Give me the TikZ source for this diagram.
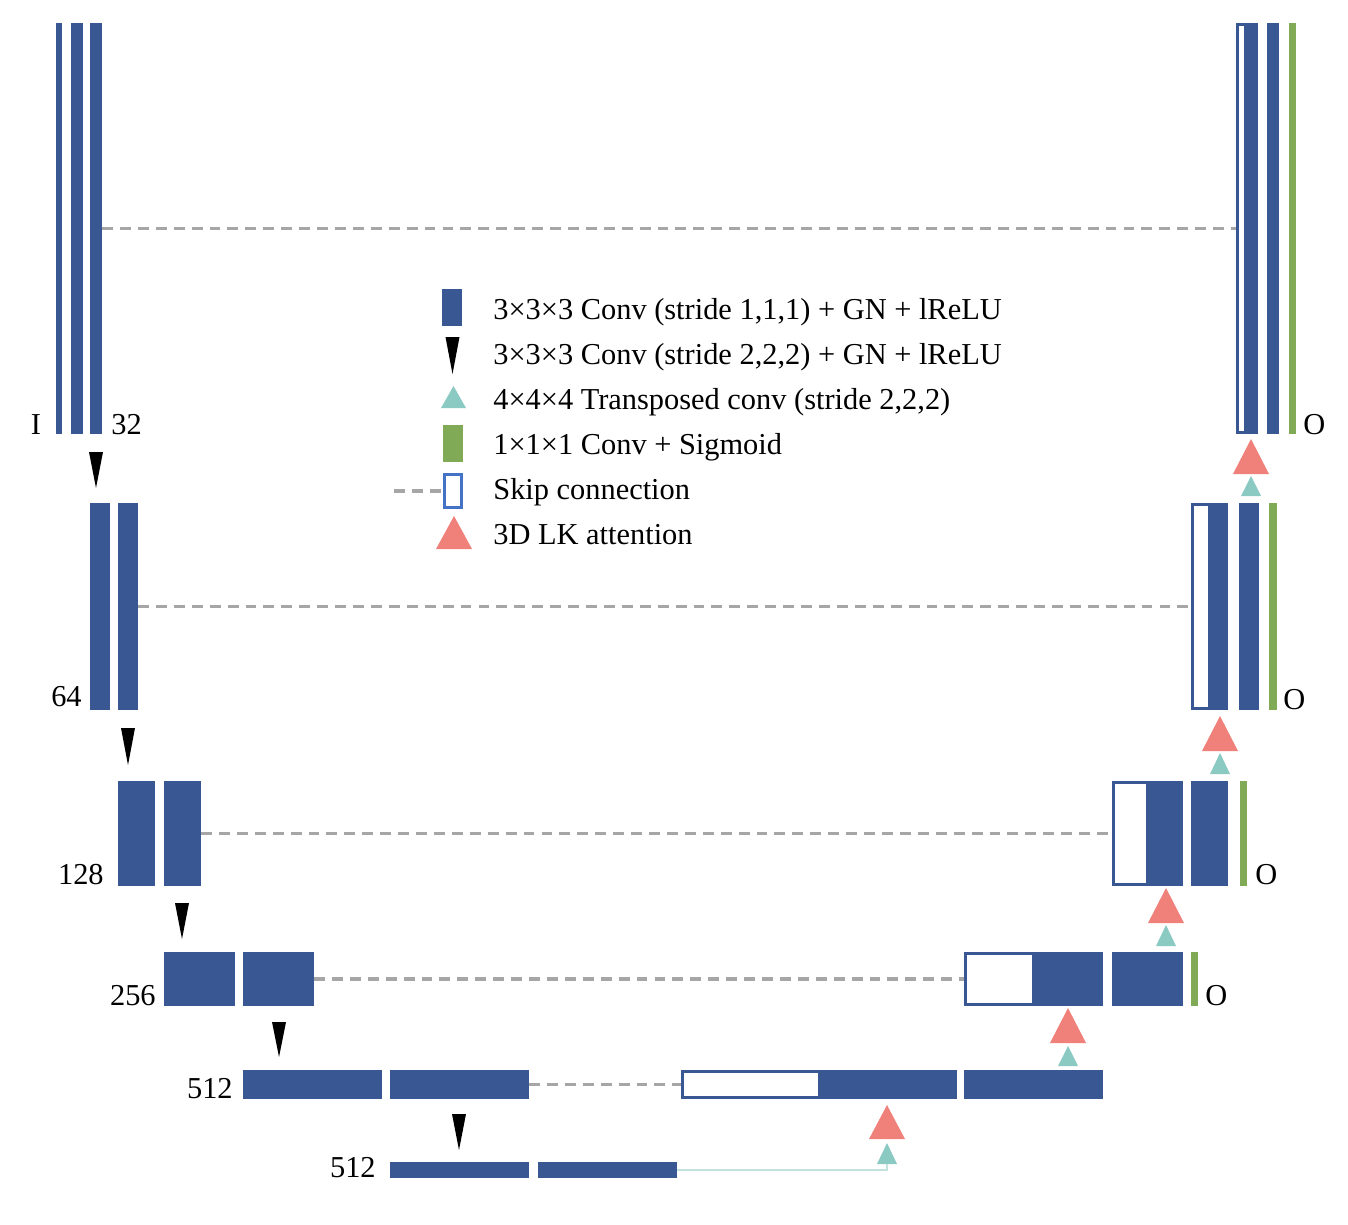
\documentclass[tikz,border=0pt]{standalone}
\usepackage{fontspec}
\setmainfont{Liberation Serif}
\usepackage{tikz}
\usetikzlibrary{arrows,shapes,positioning}
\definecolor{convblue}{RGB}{57,87,146}
\definecolor{sigreen}{RGB}{128,170,85}
\definecolor{lkred}{RGB}{240,128,122}
\definecolor{tealc}{RGB}{139,201,195}
\definecolor{skipgray}{RGB}{166,166,166}
\definecolor{legblue}{RGB}{68,114,196}
\definecolor{uplinec}{RGB}{194,226,222}
% triangles: centre x, top y, bottom y
\newcommand{\downtri}[3]{\fill[black] ({#1-7},#2)--({#1+7},#2)--(#1,#3)--cycle;}
\newcommand{\lkatt}[3]{\fill[lkred] ({#1-18},#3)--({#1+18},#3)--(#1,#2)--cycle;}
\newcommand{\upconv}[3]{\fill[tealc] ({#1-10},#3)--({#1+10},#3)--(#1,#2)--cycle;}

\begin{document}
\begin{tikzpicture}[x=0.02cm,y=-0.02cm,font=\fontsize{17.3}{20}\selectfont,
conv/.style={fill=convblue,inner sep=0pt,outer sep=0pt,anchor=north west},
hole/.style={fill=white,inner sep=0pt,outer sep=0pt,anchor=north west},
sig/.style={fill=sigreen,inner sep=0pt,outer sep=0pt,anchor=north west},
wh/.style 2 args={minimum width=#1*0.02cm,minimum height=#2*0.02cm},
lbl/.style={inner sep=0pt},
skipline/.style={draw=skipgray,line width=2.2pt,dash pattern=on 6.2pt off 4pt},
upline/.style={draw=uplinec,line width=1.2pt}]
\useasboundingbox (0,0) rectangle (1348,1224);

% encoder
\node[conv,wh={6}{411}] (in1) at (56,23) {};
\node[conv,wh={12}{411}] (e1a) at (71,23) {};
\node[conv,wh={12}{411}] (e1b) at (90,23) {};
\node[lbl,anchor=base] (nI) at (36,434) {I};
\node[lbl,anchor=base west] (n32) at (111,434) {32};
\downtri{96}{452}{488}
\node[conv,wh={20}{207}] (e2a) at (90,503) {};
\node[conv,wh={20}{207}] (e2b) at (118,503) {};
\node[lbl,anchor=base east] (n64) at (82,706) {64};
\downtri{128}{728}{765}
\node[conv,wh={37}{105}] (e3a) at (118,781) {};
\node[conv,wh={37}{105}] (e3b) at (164,781) {};
\node[lbl,anchor=base east] (n128) at (104,884) {128};
\downtri{182}{903}{939}
\node[conv,wh={71}{54}] (e4a) at (164,952) {};
\node[conv,wh={71}{54}] (e4b) at (243,952) {};
\node[lbl,anchor=base east] (n256) at (156,1005) {256};
\downtri{279}{1022}{1057}
\node[conv,wh={139}{29}] (e5a) at (243,1070) {};
\node[conv,wh={139}{29}] (e5b) at (390,1070) {};
\node[lbl,anchor=base east] (n512a) at (233,1098) {512};
\downtri{459}{1114}{1150}
\node[conv,wh={139}{16}] (e6a) at (390,1162) {};
\node[conv,wh={139}{16}] (e6b) at (538,1162) {};
\node[lbl,anchor=base east] (n512b) at (376,1177) {512};

% decoder
\node[conv,wh={276}{29}] (d5s) at (681,1070) {};
\node[hole,wh={134}{23}] (d5w) at (684,1073) {};
\node[conv,wh={139}{29}] (d5b) at (964,1070) {};
\coordinate (t5) at (887,1164);
\upconv{887}{1143}{1164}
\lkatt{887}{1105}{1139}
\node[conv,wh={139}{54}] (d4s) at (964,952) {};
\node[hole,wh={65}{48}] (d4w) at (967,955) {};
\node[conv,wh={71}{54}] (d4b) at (1112,952) {};
\node[sig,wh={7}{54}] (o4) at (1191,952) {};
\node[lbl,anchor=base west] (nO4) at (1205,1005) {O};
\upconv{1068}{1046}{1066}
\lkatt{1068}{1008}{1043}
\node[conv,wh={71}{105}] (d3s) at (1112,781) {};
\node[hole,wh={31}{99}] (d3w) at (1115,784) {};
\node[conv,wh={37}{105}] (d3b) at (1191,781) {};
\node[sig,wh={7}{105}] (o3) at (1240,781) {};
\node[lbl,anchor=base west] (nO3) at (1255,884) {O};
\upconv{1166}{925}{946}
\lkatt{1166}{888}{923}
\node[conv,wh={37}{207}] (d2s) at (1191,503) {};
\node[hole,wh={14}{201}] (d2w) at (1194,506) {};
\node[conv,wh={20}{207}] (d2b) at (1239,503) {};
\node[sig,wh={8}{207}] (o2) at (1269,503) {};
\node[lbl,anchor=base west] (nO2) at (1283,709) {O};
\upconv{1220}{753}{774}
\lkatt{1220}{716}{751}
\node[conv,wh={22}{411}] (d1s) at (1236,23) {};
\node[hole,wh={5}{405}] (d1w) at (1239,26) {};
\node[conv,wh={12}{411}] (d1b) at (1267,23) {};
\node[sig,wh={7}{411}] (o1) at (1289,23) {};
\node[lbl,anchor=base west] (nO1) at (1303,434) {O};
\upconv{1251}{476}{496}
\lkatt{1251}{439}{474}

% skip connections
\draw[skipline] (e1b.east) -- (d1s.west);
\draw[skipline] (e2b.east) -- (d2s.west);
\draw[skipline] (e3b.east) -- (d3s.west);
\draw[skipline] (e4b.east) -- (d4s.west);
\draw[skipline] (e5b.east) -- (d5s.west);
\draw[upline] (e6b.east) -| (t5);

% legend
\node[conv,wh={20}{37}] (lgc) at (442,289) {};
\downtri{452.5}{337}{374}
\fill[tealc] (441,408)--(466,408)--(453.5,386)--cycle;
\node[sig,wh={20}{37}] (lgs) at (443,425) {};
\node[draw=legblue,line width=1.7pt,fill=white,inner sep=0pt,minimum width=17*0.02cm,minimum height=33*0.02cm] (lgk) at (453,491) {};
\coordinate (lgd) at (394,491);
\draw[skipline] (lgd) -- (lgk.west);
\lkatt{454}{516}{549}
\node[lbl,anchor=base west] (lg1) at (493,319) {3×3×3 Conv (stride 1,1,1) + GN + lReLU};
\node[lbl,anchor=base west] (lg2) at (493,364) {3×3×3 Conv (stride 2,2,2) + GN + lReLU};
\node[lbl,anchor=base west] (lg3) at (493,409) {4×4×4 Transposed conv (stride 2,2,2)};
\node[lbl,anchor=base west] (lg4) at (493,454) {1×1×1 Conv + Sigmoid};
\node[lbl,anchor=base west] (lg5) at (493,499) {Skip connection};
\node[lbl,anchor=base west] (lg6) at (493,544) {3D LK attention};
\end{tikzpicture}
\end{document}
